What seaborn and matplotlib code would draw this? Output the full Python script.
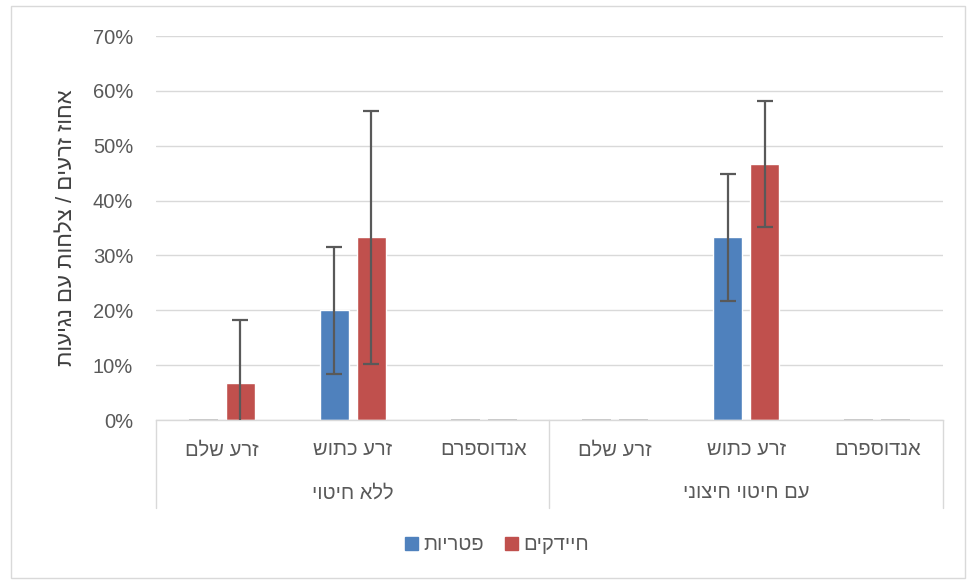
import matplotlib
matplotlib.use("Agg")
import matplotlib.pyplot as plt
import seaborn as sns
import pandas as pd
import numpy as np
from matplotlib.ticker import PercentFormatter, MultipleLocator
from matplotlib.patches import Rectangle
from matplotlib.font_manager import FontProperties

# ---- data (logical Hebrew strings) ----
groups = ["ללא חיטוי", "עם חיטוי חיצוני"]
parts = ["זרע שלם", "זרע כתוש", "אנדוספרם"]
series = ["פטריות", "חיידקים"]
fungi_vals = [0.0, 0.20, 0.0, 0.0, 0.333, 0.0]
bact_vals = [0.0667, 0.333, 0.0, 0.0, 0.467, 0.0]
fungi_err = [0.0, 0.116, 0.0, 0.0, 0.116, 0.0]
bact_err = [0.116, 0.231, 0.0, 0.0, 0.115, 0.0]
y_label = "אחוז זרעים / צלחות עם נגיעות"


def vis(s):
    # visual (left-to-right) order for right-to-left Hebrew text
    return s[::-1]


cats = [f"{g}|{p}" for g in groups for p in parts]
df = pd.DataFrame({
    "cat": cats * 2,
    "series": [series[0]] * 6 + [series[1]] * 6,
    "value": fungi_vals + bact_vals,
    "err": fungi_err + bact_err,
})

sns.set_theme(style="white")
plt.rcParams["font.family"] = ["Liberation Sans", "DejaVu Sans"]

heb = FontProperties(family=["Liberation Sans", "DejaVu Sans"], size=14.5)
heb_lab = FontProperties(family=["Liberation Sans", "DejaVu Sans"], size=16)

W, H = 970, 580
fig = plt.figure(figsize=(W / 100, H / 100), dpi=100)
ax = fig.add_axes([156 / W, 1 - 420 / H, (943 - 156) / W, (420 - 36) / H])

colors = {series[0]: "#4F81BD", series[1]: "#C0504D"}
sns.barplot(data=df, x="cat", y="value", hue="series", order=cats,
            hue_order=series, palette=colors, width=0.565, gap=0.22,
            errorbar=None, ax=ax, legend=False, saturation=1)

# error bars at the bar centers
for cont, s in zip(ax.containers, series):
    sub = df[df["series"] == s].set_index("cat").loc[cats]
    xs, ys, es = [], [], []
    for patch, v, e in zip(cont.patches, sub["value"], sub["err"]):
        if v == 0:
            patch.set_edgecolor("#bfbfbf")
            patch.set_linewidth(1.2)
        if e > 0:
            xs.append(patch.get_x() + patch.get_width() / 2)
            ys.append(v)
            es.append(e)
    ax.errorbar(xs, ys, yerr=es, fmt="none", ecolor="#595959",
                elinewidth=1.6, capsize=6, capthick=1.6, zorder=5)

ax.set_ylim(0, 0.7)
ax.set_xlim(-0.5, 5.5)
ax.yaxis.set_major_locator(MultipleLocator(0.1))
ax.yaxis.set_major_formatter(PercentFormatter(1.0, decimals=0))
ax.grid(axis="y", color="#d9d9d9", linewidth=1.0)
ax.set_axisbelow(True)
for sp in ["left", "right", "top"]:
    ax.spines[sp].set_visible(False)
ax.spines["bottom"].set_color("#d9d9d9")
ax.spines["bottom"].set_linewidth(1.0)
ax.tick_params(axis="y", length=0, pad=16.5, labelsize=14.5, labelcolor="#595959")
ax.set_xticks([])
ax.set_xlabel("")
ax.set_ylabel(vis(y_label), fontproperties=heb_lab, color="#404040", labelpad=11)

# multi-level category axis
trans = ax.get_xaxis_transform()
for i, c in enumerate(cats):
    ax.text(i, -0.078, vis(c.split("|")[1]), transform=trans, ha="center",
            va="center", fontproperties=heb, color="#595959")
for j, g in enumerate(groups):
    ax.text(j * 3 + 1, -0.19, vis(g), transform=trans, ha="center",
            va="center", fontproperties=heb, color="#595959")
for xv in [-0.5, 2.5, 5.5]:
    ax.plot([xv, xv], [0, -0.229], transform=trans, color="#d9d9d9",
            lw=1.0, clip_on=False)

# legend
handles = [Rectangle((0, 0), 1, 1, color=colors[s]) for s in series]
fig.legend(handles, [vis(s) for s in series], loc="center",
           bbox_to_anchor=(497 / W, 1 - 545 / H), ncol=2, frameon=False,
           prop=heb, handlelength=0.65, handleheight=0.65,
           handletextpad=0.3, columnspacing=1.0, labelcolor="#595959")

# outer chart border
fig.patches.append(Rectangle((11 / W, 2 / H), (965 - 11) / W, (574 - 2) / H,
                             transform=fig.transFigure, fill=False,
                             edgecolor="#d9d9d9", lw=1.0))

fig.savefig("out.png", dpi=100)
